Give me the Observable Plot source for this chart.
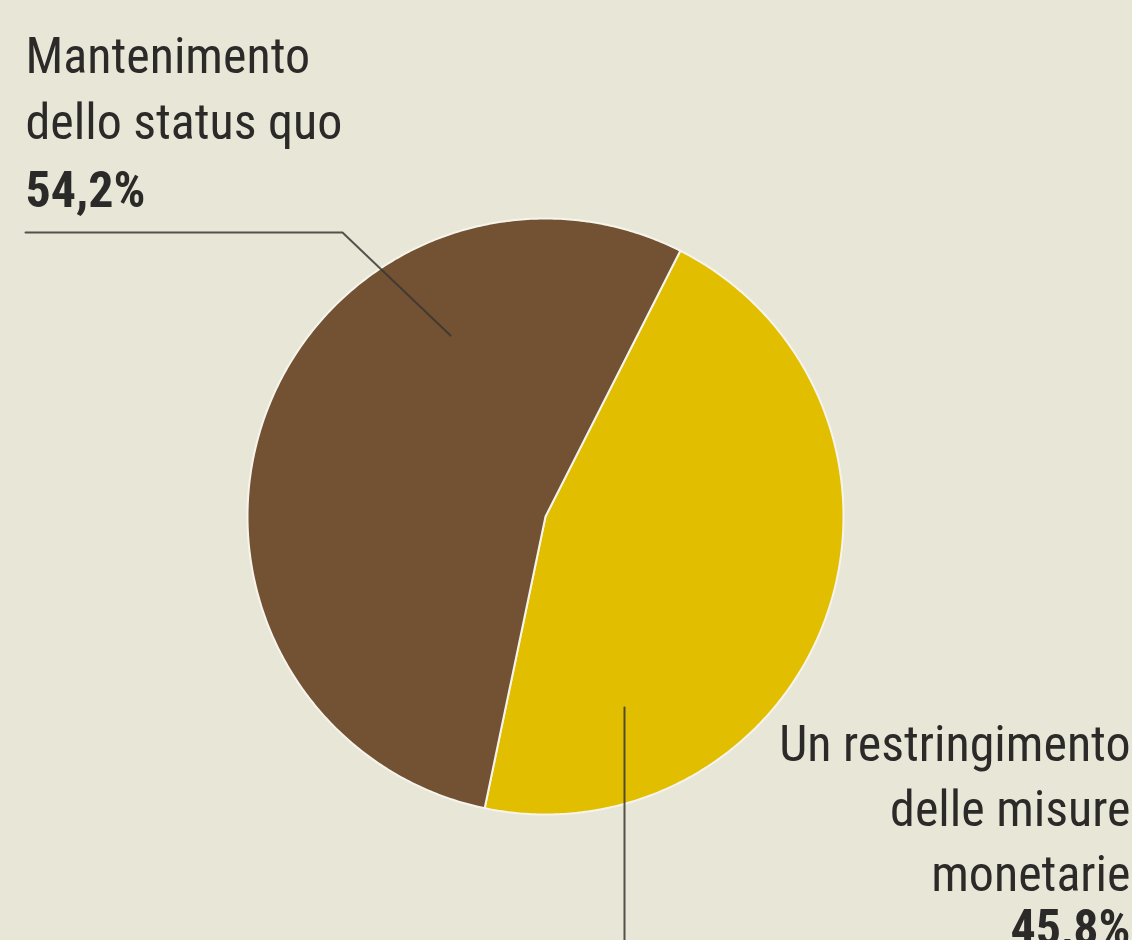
<!DOCTYPE html>
<html>
<head>
<meta charset="utf-8">
<script src="https://cdn.jsdelivr.net/npm/d3@7"></script>
<script src="https://cdn.jsdelivr.net/npm/@observablehq/plot@0.6"></script>
<style>
  html, body { margin: 0; padding: 0; background: #e8e6d6; overflow: hidden; }
  #chart svg { display: block; }
</style>
</head>
<body>
<div id="chart"></div>
<script>
// ---- Data ----
const categories = ["Un restringimento delle misure monetarie", "Mantenimento dello status quo"];
const values = [45.8, 54.2];
const colors = ["#e2be00", "#725232"];
const valueLabels = ["45,8%", "54,2%"];
const labelLinesA = ["Mantenimento", "dello status quo"];
const labelLinesB = ["Un restringimento", "delle misure", "monetarie"];

// ---- Layout (pixel space used as the scale domain) ----
const W = 1132, H = 940;
const cx = 545, cy = 516, R = 298;
const startDeg = 26.9; // first slice starts here, clockwise from 12 o'clock

const pie = d3.pie().sort(null).value(d => d.value)
  .startAngle(startDeg * Math.PI / 180)
  .endAngle(startDeg * Math.PI / 180 + 2 * Math.PI);
const arcs = pie(categories.map((c, i) => ({name: c, value: values[i]})));

// polygon vertices for each slice (center, arc, center)
const slicePts = [];
for (const a of arcs) {
  const n = Math.max(2, Math.ceil((a.endAngle - a.startAngle) / 0.01));
  slicePts.push({name: a.data.name, x: cx, y: cy});
  for (let k = 0; k <= n; k++) {
    const t = a.startAngle + (a.endAngle - a.startAngle) * k / n;
    slicePts.push({name: a.data.name, x: cx + R * Math.sin(t), y: cy - R * Math.cos(t)});
  }
  slicePts.push({name: a.data.name, x: cx, y: cy});
}

// leader lines
const leaders = [
  {id: "a", x: 25, y: 232}, {id: "a", x: 342, y: 232}, {id: "a", x: 450, y: 335},
  {id: "b", x: 624, y: 707}, {id: "b", x: 624, y: 940}
];

const font = "'Liberation Sans Narrow', 'Arial Narrow', 'Roboto Condensed', sans-serif";
const fs = 50;

const textA = labelLinesA.map((t, i) => ({t, x: 25, y: 72 + i * 66}));
const textB = labelLinesB.map((t, i) => ({t, x: 1130, y: 760 + i * 65}));

const chart = Plot.plot({
  width: W, height: H,
  margin: 0,
  style: {background: "#e8e6d6", fontFamily: font, overflow: "hidden"},
  x: {domain: [0, W], range: [0, W], axis: null},
  y: {domain: [0, H], range: [0, H], axis: null},
  color: {domain: categories, range: colors},
  marks: [
    Plot.line(slicePts, {x: "x", y: "y", z: "name", fill: "name", stroke: "#f6f4ec", strokeWidth: 2, curve: "linear"}),
    Plot.line(leaders, {x: "x", y: "y", z: "id", stroke: "#3a3633", strokeWidth: 2, strokeOpacity: 0.85}),
    Plot.text(textA, {x: "x", y: "y", text: "t", textAnchor: "start", lineAnchor: "bottom", fontSize: fs, fill: "#2b2a28"}),
    Plot.text([{t: valueLabels[1], x: 25, y: 206}], {x: "x", y: "y", text: "t", textAnchor: "start", lineAnchor: "bottom", fontSize: fs, fontWeight: "bold", fill: "#2b2a28"}),
    Plot.text(textB, {x: "x", y: "y", text: "t", textAnchor: "end", lineAnchor: "bottom", fontSize: fs, fill: "#2b2a28"}),
    Plot.text([{t: valueLabels[0], x: 1130, y: 944}], {x: "x", y: "y", text: "t", textAnchor: "end", lineAnchor: "bottom", fontSize: fs, fontWeight: "bold", fill: "#2b2a28"})
  ]
});
document.getElementById("chart").append(chart);
</script>
</body>
</html>
